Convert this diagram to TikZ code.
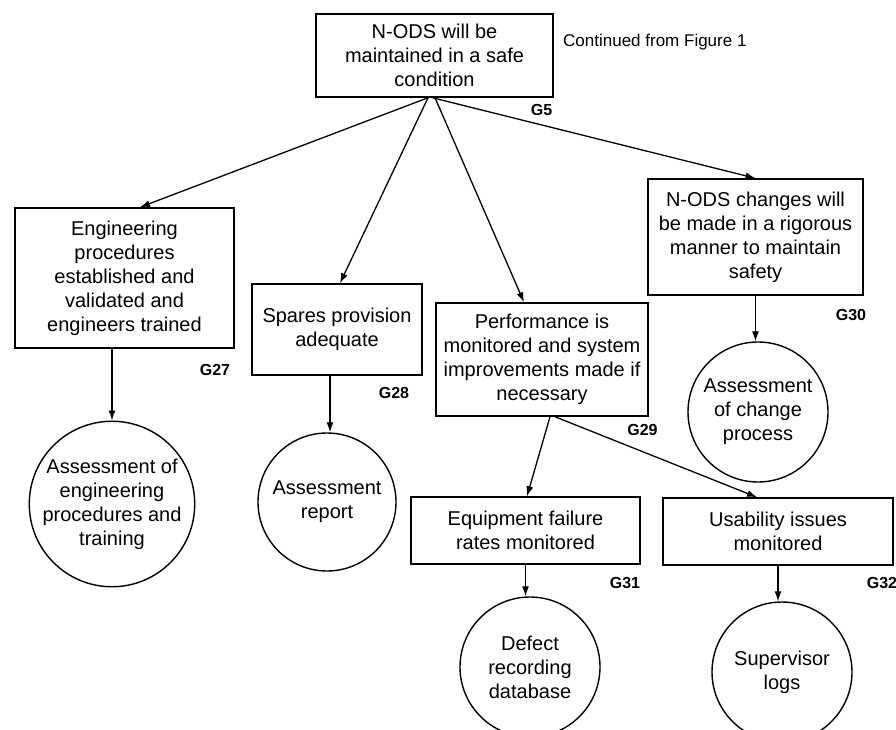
\documentclass[tikz,border=0pt]{standalone}
\usepackage{fontspec}
\setmainfont{Liberation Sans}
\usetikzlibrary{arrows.meta}

\tikzset{
  goalbox/.style={draw, line width=1.5pt, rectangle, align=center, inner sep=0pt,
    font=\fontsize{20}{24}\selectfont},
  evidence/.style={draw, line width=1.4pt, circle, align=center, inner sep=0pt,
    font=\fontsize{20}{24}\selectfont},
  goalid/.style={font=\fontsize{16}{19}\selectfont\bfseries, inner sep=0pt},
  note/.style={font=\fontsize{17}{20}\selectfont, inner sep=0pt},
  link/.style={line width=1.3pt, -{Latex[length=10pt,width=7pt]}}
}

\begin{document}
\begin{tikzpicture}[x=1pt,y=-1pt]
  \useasboundingbox (0,0) rectangle (896,730);

  % goals
  \node[goalbox, minimum width=237pt, minimum height=83pt] (g5) at (434.5,55.5)
    {N-ODS will be\\maintained in a safe\\condition};
  \node[goalbox, minimum width=219pt, minimum height=140pt] (g27) at (124.5,278)
    {Engineering\\procedures\\established and\\validated and\\engineers trained};
  \node[goalbox, minimum width=170pt, minimum height=91pt] (g28) at (337,329.5)
    {Spares provision\\adequate};
  \node[goalbox, minimum width=212pt, minimum height=113pt] (g29) at (542,359.5)
    {Performance is\\monitored and system\\improvements made if\\necessary};
  \node[goalbox, minimum width=215pt, minimum height=116pt] (g30) at (755.5,237)
    {N-ODS changes will\\be made in a rigorous\\manner to maintain\\safety};
  \node[goalbox, minimum width=229pt, minimum height=67pt] (g31) at (525.5,530.5)
    {Equipment failure\\rates monitored};
  \node[goalbox, minimum width=230pt, minimum height=67pt] (g32) at (778,531.5)
    {Usability issues\\monitored};

  % evidence
  \node[evidence, minimum size=164pt] (e27) at (112,504)
    {Assessment of\\engineering\\procedures and\\training};
  \node[evidence, minimum size=138pt] (e28) at (327,502)
    {Assessment\\report};
  \node[evidence, minimum size=140pt] (e30) at (758,412)
    {Assessment\\of change\\process};
  \node[evidence, minimum size=140pt] (e31) at (530,667)
    {Defect\\recording\\database};
  \node[evidence, minimum size=140pt] (e32) at (782,672)
    {Supervisor\\logs};

  % identifiers
  \node[goalid] (l5)  at (541.5,110) {G5};
  \node[goalid] (l27) at (215,370)   {G27};
  \node[goalid] (l28) at (394,393)   {G28};
  \node[goalid] (l29) at (642.5,430) {G29};
  \node[goalid] (l30) at (851,315)   {G30};
  \node[goalid] (l31) at (625,583)   {G31};
  \node[goalid] (l32) at (882,583)   {G32};

  \node[note, anchor=west] (cont) at (563,42) {Continued from Figure 1};

  % goal decomposition
  \draw[link] ([xshift=-6.5pt]g5.south) -- ([xshift=15.5pt]g27.north);
  \draw[link] ([xshift=-6.5pt]g5.south) -- ([xshift=3pt]g28.north);
  \draw[link] ([xshift=0.5pt]g5.south) -- ([xshift=-18pt]g29.north);
  \draw[link] ([xshift=-2pt]g5.south) -- (g30.north);
  \draw[link] ([xshift=8pt]g29.south) -- ([xshift=1.5pt]g31.north);
  \draw[link] ([xshift=13pt]g29.south) -- ([xshift=-21pt]g32.north);

  % goals to evidence
  \draw[link] (e27.north |- g27.south) -- (e27.north);
  \draw[link] ([xshift=3pt]e28.north |- g28.south) -- ([xshift=3pt]e28.north);
  \draw[link] (g30.south) -- (g30.south |- e30.north);
  \draw[link] (g31.south) -- (g31.south |- e31.north);
  \draw[link] (g32.south) -- (g32.south |- e32.north);
\end{tikzpicture}
\end{document}
